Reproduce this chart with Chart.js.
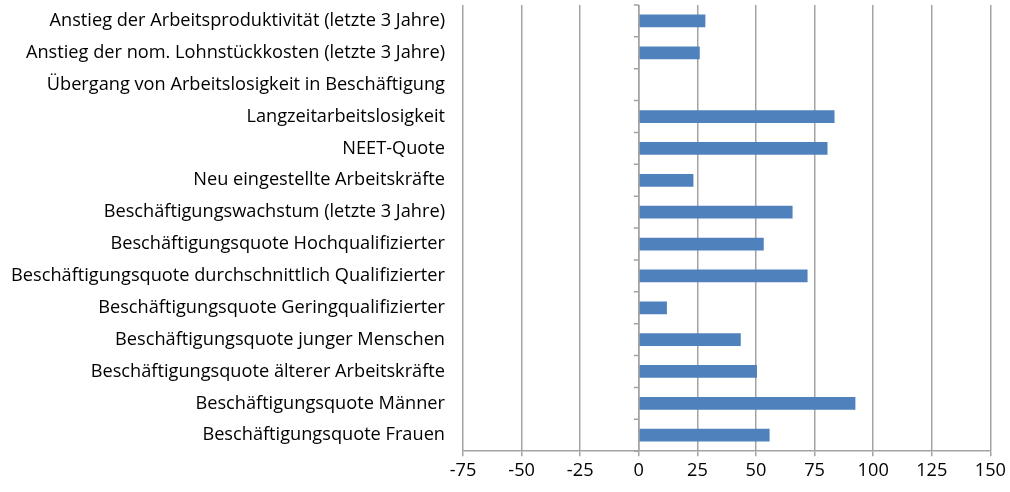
<!DOCTYPE html>
<html>
<head>
<meta charset="utf-8">
<script src="https://cdn.jsdelivr.net/npm/chart.js@4"></script>
<style>
  html, body { margin: 0; padding: 0; background: #fff; }
  #wrap { width: 1010px; height: 492px; }
</style>
</head>
<body>
<div id="wrap"><canvas id="chart"></canvas></div>
<script>
const categories = [
  "Anstieg der Arbeitsproduktivität (letzte 3 Jahre)",
  "Anstieg der nom. Lohnstückkosten (letzte 3 Jahre)",
  "Übergang von Arbeitslosigkeit in Beschäftigung",
  "Langzeitarbeitslosigkeit",
  "NEET-Quote",
  "Neu eingestellte Arbeitskräfte",
  "Beschäftigungswachstum (letzte 3 Jahre)",
  "Beschäftigungsquote Hochqualifizierter",
  "Beschäftigungsquote durchschnittlich Qualifizierter",
  "Beschäftigungsquote Geringqualifizierter",
  "Beschäftigungsquote junger Menschen",
  "Beschäftigungsquote älterer Arbeitskräfte",
  "Beschäftigungsquote Männer",
  "Beschäftigungsquote Frauen"
];
const values = [28.4, 26, 0, 83.5, 80.5, 23.3, 65.6, 53.3, 72, 12, 43.5, 50.4, 92.4, 55.8];
const xMin = -75, xMax = 150, xStep = 25;

const font = { family: "'Open Sans', sans-serif", size: 18.2 };
const gridGrey = "#a3a3a3";

// vertical axis line at x = 0 with small ticks between the categories
const zeroAxis = {
  id: "zeroAxis",
  beforeDatasetsDraw(chart) {
    const { ctx, chartArea, scales } = chart;
    const x0 = scales.x.getPixelForValue(0);
    const n = chart.data.labels.length;
    const step = scales.y.getPixelForValue(1) - scales.y.getPixelForValue(0);
    ctx.save();
    ctx.strokeStyle = gridGrey;
    ctx.lineWidth = 1.5;
    ctx.beginPath();
    ctx.moveTo(x0, chartArea.top);
    ctx.lineTo(x0, chartArea.bottom);
    for (let i = 0; i <= n; i++) {
      const y = scales.y.getPixelForValue(0) + (i - 0.5) * step;
      ctx.moveTo(x0 - 5, y);
      ctx.lineTo(x0, y);
    }
    ctx.stroke();
    ctx.restore();
  }
};

new Chart(document.getElementById("chart"), {
  type: "bar",
  data: {
    labels: categories,
    datasets: [{
      data: values,
      backgroundColor: "#4f81bd",
      barPercentage: 0.4,
      categoryPercentage: 1
    }]
  },
  options: {
    indexAxis: "y",
    responsive: true,
    maintainAspectRatio: false,
    animation: false,
    layout: { padding: { top: 5, right: 19, bottom: 6, left: 8 } },
    plugins: { legend: { display: false }, tooltip: { enabled: false } },
    scales: {
      x: {
        min: xMin, max: xMax,
        ticks: { stepSize: xStep, color: "#000", font: font, padding: 4, maxRotation: 0 },
        grid: { color: gridGrey, lineWidth: 1.5, tickLength: 5 },
        border: { color: gridGrey, width: 1.5 }
      },
      y: {
        ticks: { color: "#000", font: font, padding: 18 },
        grid: { display: false, drawTicks: false },
        border: { display: false },
        afterFit(scale) {
          scale.width = 455;
          scale.paddingTop = 0;
          scale.paddingBottom = 0;
        }
      }
    }
  },
  plugins: [zeroAxis]
});
</script>
</body>
</html>
